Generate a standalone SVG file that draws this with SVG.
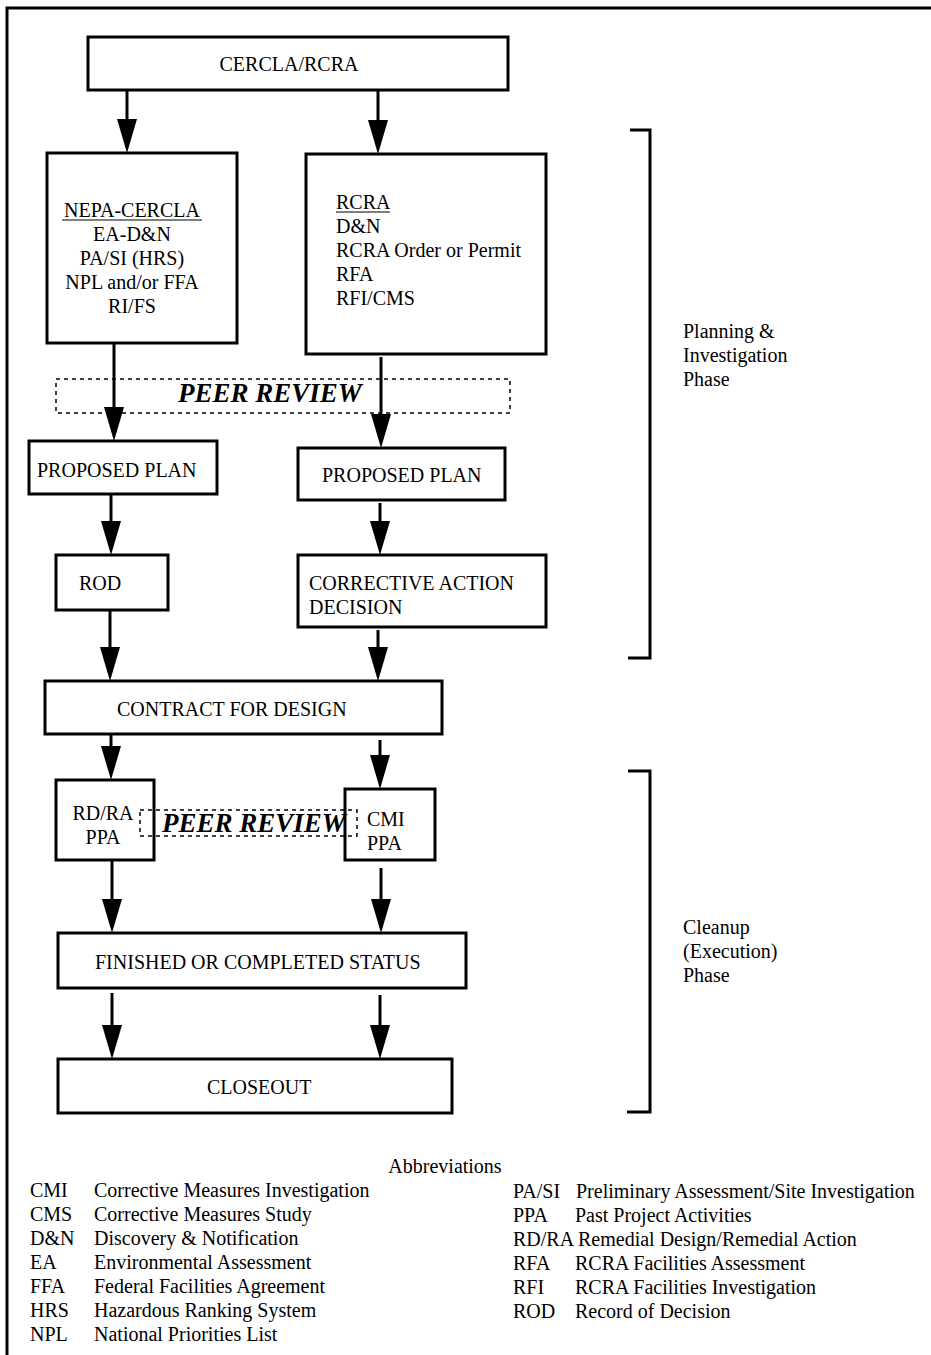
<svg xmlns="http://www.w3.org/2000/svg" width="931" height="1355" viewBox="0 0 931 1355">
<style>
text{font-family:"Liberation Serif","Times New Roman",serif;font-size:20px;fill:#000}
.box{fill:#fff;stroke:#000;stroke-width:3}
.dash{fill:none;stroke:#000;stroke-width:1.5;stroke-dasharray:4 4}
.pr{font-weight:bold;font-style:italic;font-size:27px}
.c{text-anchor:middle}
.con line{stroke:#000;stroke-width:3}
.br{fill:none;stroke:#000;stroke-width:3}
</style>
<defs>
<marker id="ah" markerUnits="userSpaceOnUse" markerWidth="34" markerHeight="20" viewBox="0 0 34 20" refX="4" refY="10" orient="auto">
<path d="M0,0 L34,10 L0,20 Z" fill="#000"/>
</marker>
</defs>
<rect width="931" height="1355" fill="#fff"/>
<path d="M7,1355 V8 H931" fill="none" stroke="#000" stroke-width="3"/>

<g id="dashed-review-1">
<rect class="dash" x="56" y="379" width="454" height="34"/>
</g>

<g class="con" id="connectors">
<line x1="127" y1="90" x2="127" y2="123" marker-end="url(#ah)"/>
<line x1="378" y1="90" x2="378" y2="124" marker-end="url(#ah)"/>
<line x1="114" y1="343" x2="114" y2="411" marker-end="url(#ah)"/>
<line x1="381" y1="357" x2="381" y2="418" marker-end="url(#ah)"/>
<line x1="111" y1="494" x2="111" y2="525" marker-end="url(#ah)"/>
<line x1="380" y1="503" x2="380" y2="525" marker-end="url(#ah)"/>
<line x1="110" y1="610" x2="110" y2="651" marker-end="url(#ah)"/>
<line x1="378" y1="630" x2="378" y2="651" marker-end="url(#ah)"/>
<line x1="111" y1="734" x2="111" y2="750" marker-end="url(#ah)"/>
<line x1="380" y1="740" x2="380" y2="759" marker-end="url(#ah)"/>
<line x1="112" y1="860" x2="112" y2="903" marker-end="url(#ah)"/>
<line x1="381" y1="868" x2="381" y2="903" marker-end="url(#ah)"/>
<line x1="112" y1="993" x2="112" y2="1029" marker-end="url(#ah)"/>
<line x1="380" y1="995" x2="380" y2="1029" marker-end="url(#ah)"/>
</g>

<g id="cercla-rcra">
<rect class="box" x="88" y="37" width="420" height="53"/>
<text class="c" x="289" y="71">CERCLA/RCRA</text>
</g>

<g id="nepa-cercla">
<rect class="box" x="47" y="153" width="190" height="190"/>
<text class="c" x="132" y="217">NEPA-CERCLA</text>
<line x1="62" y1="220" x2="202" y2="220" stroke="#000" stroke-width="1"/>
<text class="c" x="132" y="241">EA-D&amp;N</text>
<text class="c" x="132" y="265">PA/SI (HRS)</text>
<text class="c" x="132" y="289">NPL and/or FFA</text>
<text class="c" x="132" y="313">RI/FS</text>
</g>

<g id="rcra">
<rect class="box" x="306" y="154" width="240" height="200"/>
<text x="336" y="209">RCRA</text>
<line x1="336" y1="212" x2="390" y2="212" stroke="#000" stroke-width="1"/>
<text x="336" y="233">D&amp;N</text>
<text x="336" y="257">RCRA Order or Permit</text>
<text x="336" y="281">RFA</text>
<text x="336" y="305">RFI/CMS</text>
</g>

<g id="peer-review-1">
<text class="pr" x="178" y="402">PEER REVIEW</text>
</g>

<g id="proposed-plan-left">
<rect class="box" x="29" y="441" width="188" height="53"/>
<text x="37" y="477">PROPOSED PLAN</text>
</g>

<g id="proposed-plan-right">
<rect class="box" x="298" y="448" width="207" height="52"/>
<text x="322" y="482">PROPOSED PLAN</text>
</g>

<g id="rod">
<rect class="box" x="56" y="555" width="112" height="55"/>
<text x="79" y="590">ROD</text>
</g>

<g id="corrective-action-decision">
<rect class="box" x="298" y="555" width="248" height="72"/>
<text x="309" y="590">CORRECTIVE ACTION</text>
<text x="309" y="614">DECISION</text>
</g>

<g id="contract-for-design">
<rect class="box" x="45" y="681" width="397" height="53"/>
<text x="117" y="716">CONTRACT FOR DESIGN</text>
</g>

<g id="rdra-ppa">
<rect class="box" x="56" y="780" width="98" height="80"/>
<text class="c" x="103" y="820">RD/RA</text>
<text class="c" x="103" y="844">PPA</text>
</g>

<g id="cmi-ppa">
<rect class="box" x="345" y="789" width="90" height="71"/>
<text x="367" y="826">CMI</text>
<text x="367" y="850">PPA</text>
</g>

<g id="dashed-review-2">
<rect class="dash" x="140" y="810" width="217" height="26"/>
</g>

<g id="peer-review-2">
<text class="pr" x="162" y="832">PEER REVIEW</text>
</g>

<g id="finished">
<rect class="box" x="58" y="933" width="408" height="55"/>
<text x="95" y="969">FINISHED OR COMPLETED STATUS</text>
</g>

<g id="closeout">
<rect class="box" x="58" y="1059" width="394" height="54"/>
<text x="207" y="1094">CLOSEOUT</text>
</g>

<g id="planning-phase">
<path class="br" d="M630,130 H650 V658 H628"/>
<text x="683" y="338">Planning &amp;</text>
<text x="683" y="362">Investigation</text>
<text x="683" y="386">Phase</text>
</g>

<g id="cleanup-phase">
<path class="br" d="M628,771 H650 V1112 H627"/>
<text x="683" y="934">Cleanup</text>
<text x="683" y="958">(Execution)</text>
<text x="683" y="982">Phase</text>
</g>

<g id="abbreviations">
<text class="c" x="445" y="1173">Abbreviations</text>
<text x="30" y="1197">CMI</text><text x="94" y="1197">Corrective Measures Investigation</text>
<text x="30" y="1221">CMS</text><text x="94" y="1221">Corrective Measures Study</text>
<text x="30" y="1245">D&amp;N</text><text x="94" y="1245">Discovery &amp; Notification</text>
<text x="30" y="1269">EA</text><text x="94" y="1269">Environmental Assessment</text>
<text x="30" y="1293">FFA</text><text x="94" y="1293">Federal Facilities Agreement</text>
<text x="30" y="1317">HRS</text><text x="94" y="1317">Hazardous Ranking System</text>
<text x="30" y="1341">NPL</text><text x="94" y="1341">National Priorities List</text>
<text x="513" y="1198">PA/SI</text><text x="576" y="1198">Preliminary Assessment/Site Investigation</text>
<text x="513" y="1222">PPA</text><text x="575" y="1222">Past Project Activities</text>
<text x="513" y="1246">RD/RA Remedial Design/Remedial Action</text>
<text x="513" y="1270">RFA</text><text x="575" y="1270">RCRA Facilities Assessment</text>
<text x="513" y="1294">RFI</text><text x="575" y="1294">RCRA Facilities Investigation</text>
<text x="513" y="1318">ROD</text><text x="575" y="1318">Record of Decision</text>
</g>
</svg>
